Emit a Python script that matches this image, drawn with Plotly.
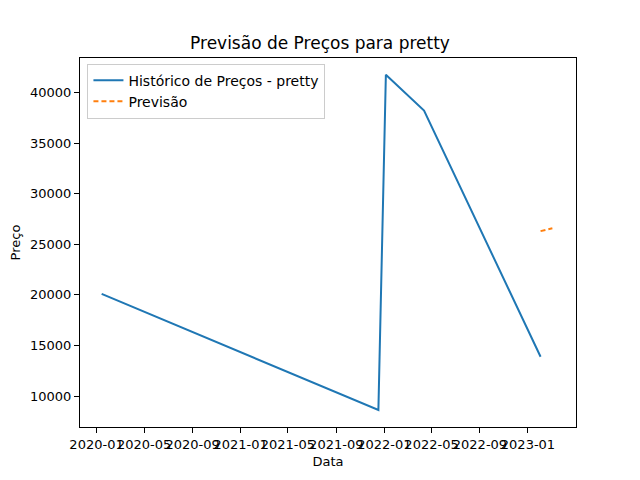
import plotly.graph_objects as go

# historical prices
hist_dates = ["2020-01-14", "2021-12-17", "2022-01-05", "2022-04-12", "2023-02-02"]
hist_prices = [20100, 8620, 41750, 38220, 13880]

# forecast
prev_dates = ["2023-02-02", "2023-02-12", "2023-02-22", "2023-03-04"]
prev_prices = [26300, 26390, 26480, 26580]

tick_dates = ["2020-01-01", "2020-05-01", "2020-09-01", "2021-01-01", "2021-05-01",
              "2021-09-01", "2022-01-01", "2022-05-01", "2022-09-01", "2023-01-01"]
tick_text = [d[:7] for d in tick_dates]
y_ticks = [10000, 15000, 20000, 25000, 30000, 35000, 40000]

fig = go.Figure()
fig.add_trace(go.Scatter(
    x=hist_dates, y=hist_prices, mode="lines",
    name="Histórico de Preços - pretty",
    line=dict(color="#1f77b4", width=2)))
fig.add_trace(go.Scatter(
    x=prev_dates, y=prev_prices, mode="lines",
    name="Previsão",
    line=dict(color="#ff7f0e", width=2, dash="5px,3px")))

axis_common = dict(showgrid=False, zeroline=False, showline=True, mirror=True,
                   linecolor="black", linewidth=1, ticks="outside", ticklen=5,
                   tickcolor="black", tickfont=dict(size=13, color="black"))

fig.update_layout(
    width=640, height=480,
    paper_bgcolor="white", plot_bgcolor="white",
    font=dict(family="DejaVu Sans", color="black"),
    title=dict(text="Previsão de Preços para pretty", x=0.5, xanchor="center",
               y=0.91, yanchor="middle", font=dict(size=17)),
    margin=dict(l=80, r=64, t=58, b=53),
    showlegend=True,
    legend=dict(x=0.015, y=0.985, xanchor="left", yanchor="top",
                bordercolor="#cccccc", borderwidth=1, bgcolor="white",
                font=dict(size=14), tracegroupgap=0),
    xaxis=dict(axis_common, title=dict(text="Data", font=dict(size=13), standoff=6),
               tickmode="array", tickvals=tick_dates, ticktext=tick_text, tickangle=0,
               range=["2019-11-20", "2023-05-03"]),
    yaxis=dict(axis_common, title=dict(text="Preço", font=dict(size=13), standoff=6),
               tickmode="array", tickvals=y_ticks, tickformat="d",
               range=[6941, 43406]),
)

# page body has a default 8px margin; drop it so the figure sits at 0,0
fig.write_html("out.html", config={"displayModeBar": False},
               post_script="document.body.style.margin='0';")
